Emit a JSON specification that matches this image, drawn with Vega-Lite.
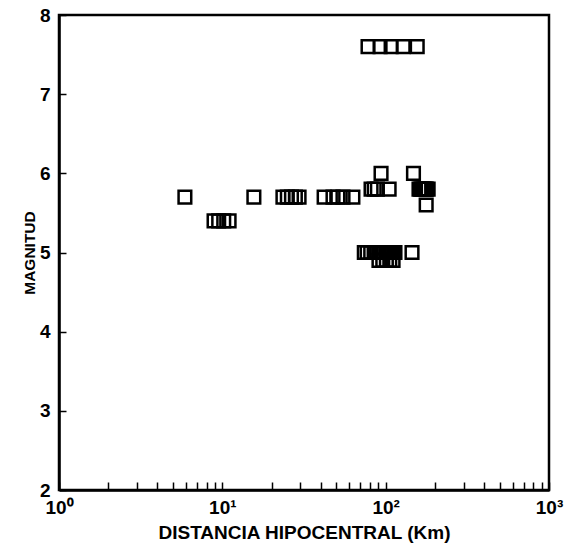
{
  "$schema": "https://vega.github.io/schema/vega-lite/v6.json",
  "width": 490,
  "height": 475,
  "autosize": "none",
  "padding": {"left": 59, "top": 15, "right": 18, "bottom": 57},
  "background": "white",
  "config": {
    "view": {"stroke": "black", "strokeWidth": 2.5},
    "font": "Liberation Sans",
    "axis": {
      "grid": false,
      "domainColor": "black",
      "domainWidth": 2.5,
      "tickColor": "black",
      "tickWidth": 1.5,
      "labelColor": "black",
      "labelFont": "Liberation Sans",
      "labelFontWeight": "bold",
      "labelFontSize": 19,
      "titleColor": "black",
      "titleFont": "Liberation Sans",
      "titleFontWeight": "bold"
    }
  },
  "data": {
    "values": [
      {"d": 5.9, "m": 5.7},
      {"d": 8.9, "m": 5.4}, {"d": 9.5, "m": 5.4}, {"d": 10.2, "m": 5.4}, {"d": 11.0, "m": 5.4},
      {"d": 15.6, "m": 5.7},
      {"d": 23.5, "m": 5.7}, {"d": 25, "m": 5.7}, {"d": 26.5, "m": 5.7}, {"d": 28, "m": 5.7}, {"d": 29.5, "m": 5.7},
      {"d": 42, "m": 5.7}, {"d": 47.6, "m": 5.7}, {"d": 51, "m": 5.7}, {"d": 54.8, "m": 5.7}, {"d": 63, "m": 5.7},
      {"d": 78, "m": 7.6}, {"d": 92.4, "m": 7.6}, {"d": 108, "m": 7.6}, {"d": 128, "m": 7.6}, {"d": 156, "m": 7.6},
      {"d": 93.7, "m": 6.0}, {"d": 148, "m": 6.0},
      {"d": 81.4, "m": 5.8}, {"d": 85, "m": 5.8}, {"d": 89, "m": 5.8}, {"d": 105, "m": 5.8},
      {"d": 160, "m": 5.8}, {"d": 163, "m": 5.8}, {"d": 166, "m": 5.8}, {"d": 169, "m": 5.8}, {"d": 172, "m": 5.8},
      {"d": 175, "m": 5.8}, {"d": 178, "m": 5.8}, {"d": 182, "m": 5.8},
      {"d": 177, "m": 5.6},
      {"d": 74, "m": 5.0}, {"d": 77, "m": 5.0}, {"d": 81, "m": 5.0}, {"d": 85, "m": 5.0}, {"d": 88, "m": 5.0},
      {"d": 91, "m": 5.0}, {"d": 94, "m": 5.0}, {"d": 97, "m": 5.0}, {"d": 100, "m": 5.0}, {"d": 103, "m": 5.0},
      {"d": 106, "m": 5.0}, {"d": 109, "m": 5.0}, {"d": 112, "m": 5.0}, {"d": 114, "m": 5.0},
      {"d": 145, "m": 5.0},
      {"d": 91, "m": 4.9}, {"d": 96, "m": 4.9}, {"d": 101, "m": 4.9}, {"d": 106, "m": 4.9}, {"d": 111, "m": 4.9}
    ]
  },
  "mark": {"type": "point", "shape": "square", "size": 160, "filled": false, "stroke": "black", "strokeWidth": 2.5, "opacity": 1},
  "encoding": {
    "x": {
      "field": "d",
      "type": "quantitative",
      "scale": {"type": "log", "domain": [1, 1000], "nice": false},
      "axis": {
        "title": "DISTANCIA HIPOCENTRAL (Km)",
        "titleFontSize": 19,
        "titlePadding": 6,
        "values": [1,2,3,4,5,6,7,8,9,10,20,30,40,50,60,70,80,90,100,200,300,400,500,600,700,800,900,1000],
        "labelExpr": "datum.value == 1 ? '10⁰' : datum.value == 10 ? '10¹' : datum.value == 100 ? '10²' : datum.value == 1000 ? '10³' : ''",
        "tickSize": -8,
        "labelPadding": 16,
        "labelFlush": false,
        "labelOverlap": false
      }
    },
    "y": {
      "field": "m",
      "type": "quantitative",
      "scale": {"domain": [2, 8], "nice": false, "zero": false},
      "axis": {
        "title": "MAGNITUD",
        "titleFontSize": 15.5,
        "titlePadding": 2,
        "values": [2,3,4,5,6,7,8],
        "tickSize": -7,
        "labelPadding": 16,
        "labelFlush": false
      }
    }
  }
}
